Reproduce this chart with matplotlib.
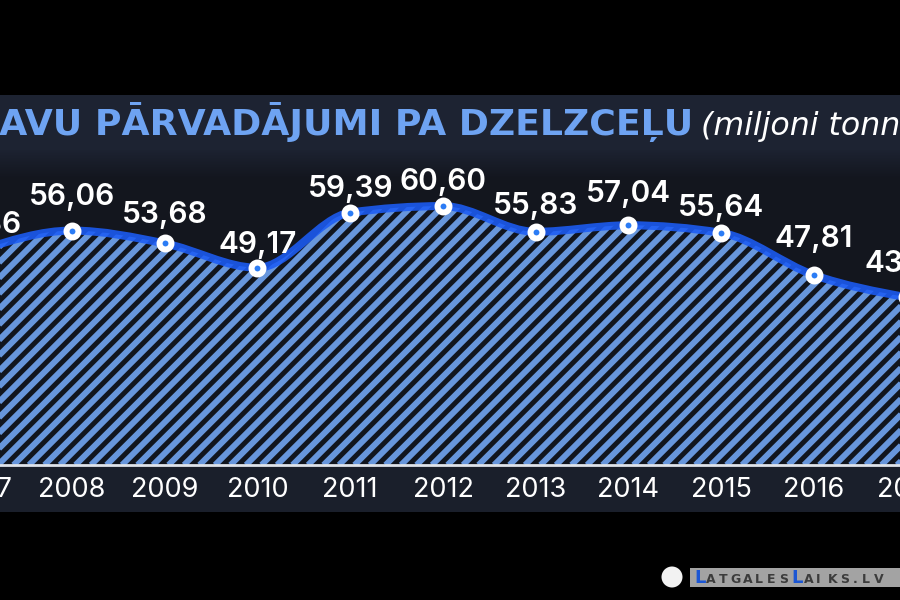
import numpy as np
import matplotlib
matplotlib.use('Agg')
import matplotlib.pyplot as plt
from matplotlib.path import Path
from matplotlib.patches import PathPatch, Rectangle, Circle
from matplotlib.collections import LineCollection
from matplotlib import colors as mcolors

# ---------------- data ----------------
years = [2007, 2008, 2009, 2010, 2011, 2012, 2013, 2014, 2015, 2016, 2017]
values = [52.36, 56.06, 53.68, 49.17, 59.39, 60.60, 55.83, 57.04, 55.64, 47.81, 43.70]
value_labels = [f"{v:.2f}".replace('.', ',') for v in values]
tick_labels = [str(y) for y in years]
title = "KRAVU PĀRVADĀJUMI PA DZELZCEĻU"
subtitle = "(miljoni tonnu)"
watermark = "LatgalesLaiks.lv"

# label gap above each point (pixels), style only
label_gap_px = [18, 26, 20, 15, 16, 16, 18, 23, 17, 28, 25]

W, H = 900, 600
plt.rcParams['font.family'] = ['Inter', 'DejaVu Sans']

fig = plt.figure(figsize=(9, 6), dpi=100, facecolor='black')

# ---------------- background bands ----------------
bg = fig.add_axes([0, 0, 1, 1], zorder=-10)
bg.axis('off')
band = np.array(mcolors.to_rgb('#1d2332'))
dark = np.array(mcolors.to_rgb('#13161e'))
lab = np.array(mcolors.to_rgb('#1a1f2b'))
rows = np.zeros((H, 1, 3))
for r in range(H):
    if 95 <= r < 150:
        rows[r, 0] = band
    elif 150 <= r < 465:
        t = min(1.0, (r - 148) / 30.0)
        rows[r, 0] = band * (1 - t) + dark * t
    elif 465 <= r < 512:
        rows[r, 0] = lab
bg.imshow(rows, aspect='auto', extent=[0, 1, 0, 1], interpolation='nearest')
bg.set_xlim(0, 1)
bg.set_ylim(0, 1)

# ---------------- main axes ----------------
ax = fig.add_axes([-0.1, 0.225, 1.2, 0.525])
ax.set_facecolor('none')
ax.set_xlim(2006.2534, 2017.898)
ax.set_ylim(12.6, 71.0)

x = np.array(years, dtype=float)
y = np.array(values, dtype=float)

# monotone cubic tangents (d3 curveMonotoneX style)
h = np.diff(x)
d = np.diff(y) / h
m = np.zeros_like(y)
for k in range(1, len(y) - 1):
    s0, s1 = d[k - 1], d[k]
    p = (s0 * h[k] + s1 * h[k - 1]) / (h[k - 1] + h[k])
    m[k] = (np.sign(s0) + np.sign(s1)) * min(abs(s0), abs(s1), 0.5 * abs(p))
m[0] = (3 * d[0] - m[1]) / 2
m[-1] = (3 * d[-1] - m[-2]) / 2

verts = [(x[0], y[0])]
codes = [Path.MOVETO]
for k in range(len(x) - 1):
    dx = h[k] / 3
    verts += [(x[k] + dx, y[k] + m[k] * dx), (x[k + 1] - dx, y[k + 1] - m[k + 1] * dx), (x[k + 1], y[k + 1])]
    codes += [Path.CURVE4] * 3
curve = Path(verts, codes)

ybase = ax.get_ylim()[0]
fverts = verts + [(x[-1], ybase), (x[0], ybase), (x[0], y[0])]
fcodes = codes + [Path.LINETO, Path.LINETO, Path.CLOSEPOLY]
fill_patch = PathPatch(Path(fverts, fcodes), facecolor='#11151e', edgecolor='none', zorder=1)
ax.add_patch(fill_patch)

# diagonal stripes clipped to the area
px_w = 1.2 * W
px_h = 0.525 * H
period = 15.5 / px_w
sdx = px_h / px_w
starts = np.arange(-sdx - period, 1 + period, period)
segs = [[(s, 0), (s + sdx, 1)] for s in starts]
lc = LineCollection(segs, colors='#6796dc', linewidths=4.3, transform=ax.transAxes, zorder=2)
lc.set_clip_path(fill_patch)
ax.add_collection(lc)

# line
ax.add_patch(PathPatch(curve, facecolor='none', edgecolor='#1c5cf5', lw=5.8,
                       alpha=0.88, capstyle='round', joinstyle='round', zorder=3))

# markers
ax.plot(x, y, linestyle='none', marker='o', markersize=8.6, markerfacecolor='#2b7cf5',
        markeredgecolor='white', markeredgewidth=4.3, zorder=5, clip_on=False)

# value labels
for xi, yi, lbl, gap in zip(x, y, value_labels, label_gap_px):
    ax.annotate(lbl, (xi, yi), xytext=(0, gap * 0.72), textcoords='offset points', ha='center',
                va='baseline', fontsize=21.5, color='white', fontweight='semibold',
                annotation_clip=False, zorder=6)

# axes styling
ax.set_xticks(years)
ax.set_xticklabels(tick_labels)
ax.set_yticks([])
ax.tick_params(axis='x', length=0, pad=8.5, labelsize=19.5, labelcolor='white')
for sp in ['top', 'left', 'right']:
    ax.spines[sp].set_visible(False)
ax.spines['bottom'].set_color('#dfe3ea')
ax.spines['bottom'].set_linewidth(2)
ax.spines['bottom'].set_zorder(4)

# ---------------- title ----------------
fig.text(693 / W, 1 - 135 / H, title, ha='right', va='baseline', fontsize=26.1,
         fontweight='bold', color='#6ea3f2', family=['DejaVu Sans'])
fig.text(701 / W, 1 - 135 / H, subtitle, ha='left', va='baseline', fontsize=22.8,
         fontstyle='italic', color='white', family=['DejaVu Sans'])

# ---------------- watermark ----------------
fig.patches.append(Rectangle((690 / W, 1 - 587 / H), 215 / W, 19 / H, transform=fig.transFigure,
                             facecolor='#a3a3a3', edgecolor='none', zorder=1))
circ = Circle((672 / 100, (H - 577) / 100), 10.5 / 100, transform=fig.dpi_scale_trans,
              facecolor='#f2f2f2', edgecolor='none', zorder=2)
fig.patches.append(circ)
xpos = 694
for i, ch in enumerate(watermark):
    big = ch == 'L'
    fig.text(xpos / W, 1 - 583 / H, ch.upper(), ha='left', va='baseline',
             fontsize=13 if big else 9, fontweight='bold',
             color='#1b56d4' if big else '#3c3c3c', family=['DejaVu Sans'], zorder=3)
    xpos += 12.2 if ch != '.' else 9

fig.savefig('out.png', dpi=100, facecolor='black')
